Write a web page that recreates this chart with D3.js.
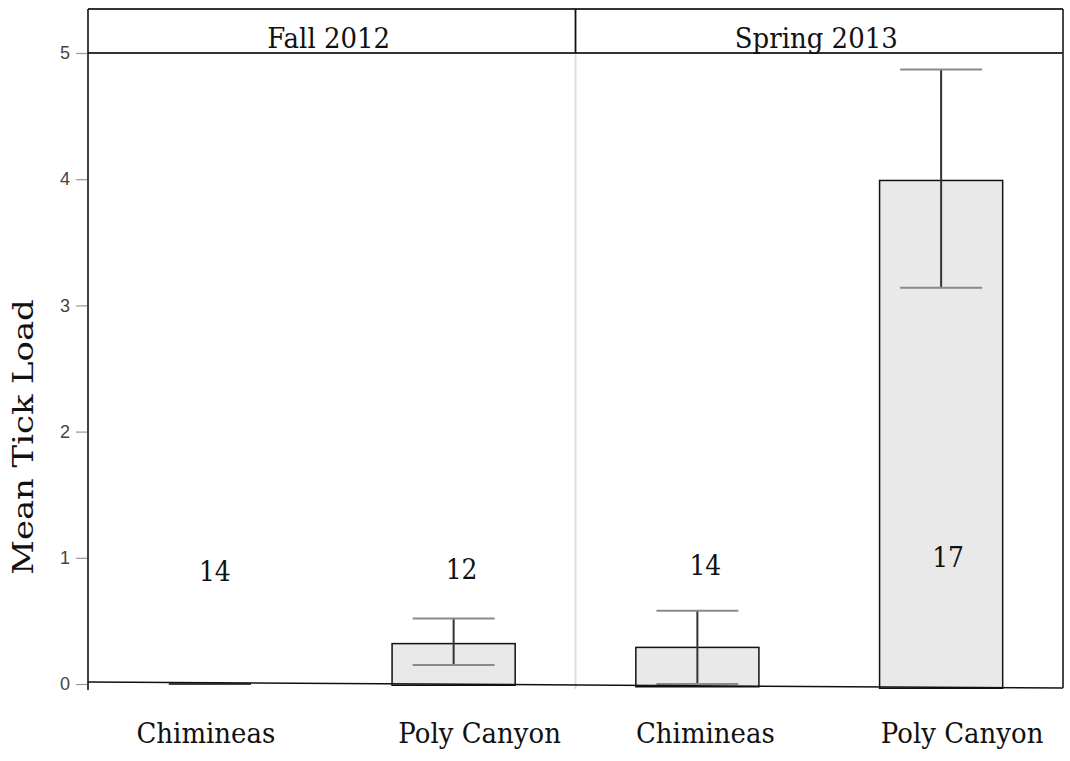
<!DOCTYPE html>
<html><head><meta charset="utf-8">
<script src="https://cdn.jsdelivr.net/npm/d3@7"></script>
<style>body{margin:0;background:#fff}</style>
</head><body><svg id="chart" width="1070" height="761"></svg>
<script>
// Mean tick load per site and season, with error bars and sample sizes
const seasons = ["Fall 2012", "Spring 2013"];
const sites = ["Chimineas", "Poly Canyon", "Chimineas", "Poly Canyon"];
const seasonIndex = [0, 0, 1, 1];
const meanLoad = [0, 0.32, 0.29, 3.99];
const errLow = [0, 0.15, 0, 3.14];
const errHigh = [0, 0.52, 0.58, 4.87];
const sampleSize = [14, 12, 14, 17];
const yTicks = [0, 1, 2, 3, 4, 5];

const svg = d3.select("#chart");
const plotLeft = 88, plotRight = 1063, frameTop = 9, stripBottom = 53;

const y = d3.scaleLinear().domain([0, 5]).range([684, 53]);
const x = d3.scaleBand().domain(d3.range(sites.length))
  .range([plotLeft, plotRight]).paddingInner(0.495).paddingOuter(0.2475);
// slightly tilted base line under the bars
const base = d3.scaleLinear().domain([plotLeft, plotRight]).range([y(0) - 2, y(0) + 4]);

const serif = "'DejaVu Serif', serif";
const panelW = (plotRight - plotLeft) / seasons.length;

// light divider between the two panels
svg.append("line")
  .attr("x1", plotLeft + panelW).attr("x2", plotLeft + panelW)
  .attr("y1", stripBottom).attr("y2", 689)
  .attr("stroke", "#dedede").attr("stroke-width", 2);

// bars
const cx = i => x(i) + x.bandwidth() / 2;
svg.append("g").selectAll("rect").data(meanLoad).join("rect")
  .attr("x", (d, i) => x(i))
  .attr("y", d => y(d))
  .attr("width", x.bandwidth())
  .attr("height", (d, i) => Math.max(0, base(cx(i)) + 1 - y(d)))
  .attr("fill", "#e9e9e9")
  .attr("stroke", (d) => d === 0 ? "#bbb" : "#111")
  .attr("stroke-width", 1.5);

// error bars
const capHalf = 41;
const eb = svg.append("g");
meanLoad.forEach((m, i) => {
  const c = cx(i);
  eb.append("line").attr("x1", c).attr("x2", c)
    .attr("y1", y(errLow[i])).attr("y2", y(errHigh[i]))
    .attr("stroke", "#333").attr("stroke-width", 2);
  [errLow[i], errHigh[i]].forEach(v => {
    eb.append("line").attr("x1", c - capHalf).attr("x2", c + capHalf)
      .attr("y1", y(v)).attr("y2", y(v))
      .attr("stroke", m === 0 ? "#444" : "#8a8a8a").attr("stroke-width", 2);
  });
});

// base line
svg.append("line")
  .attr("x1", plotLeft).attr("x2", plotRight)
  .attr("y1", base(plotLeft)).attr("y2", base(plotRight))
  .attr("stroke", "#111").attr("stroke-width", 1.5);

// frame: strip, divider, right border, left axis
const frame = svg.append("g").attr("stroke", "#333").attr("stroke-width", 1.8).attr("fill", "none");
frame.append("line").attr("x1", plotLeft).attr("x2", plotRight).attr("y1", frameTop).attr("y2", frameTop);
frame.append("line").attr("x1", plotLeft).attr("x2", plotRight).attr("y1", stripBottom).attr("y2", stripBottom);
frame.append("line").attr("x1", plotLeft + panelW).attr("x2", plotLeft + panelW).attr("y1", frameTop).attr("y2", stripBottom).attr("stroke", "#111");
frame.append("line").attr("x1", plotRight).attr("x2", plotRight).attr("y1", frameTop).attr("y2", base(plotRight));
svg.append("line").attr("x1", plotLeft).attr("x2", plotLeft).attr("y1", frameTop).attr("y2", 690)
  .attr("stroke", "#111").attr("stroke-width", 1.6);

// strip labels
svg.append("g").selectAll("text").data(seasons).join("text")
  .attr("transform", (d, i) => `translate(${plotLeft + panelW * (i + 0.5) - 3},48) scale(1,1.1)`)
  .attr("text-anchor", "middle")
  .style("font-family", serif).style("font-size", "26px").attr("fill", "#111")
  .text(d => d);

// y axis
const yAxis = d3.axisLeft(y).tickValues(yTicks).tickSize(11).tickPadding(6).tickFormat(d3.format("d"));
const ya = svg.append("g").attr("transform", `translate(${plotLeft - 1},0)`).call(yAxis)
  .attr("font-size", 18).attr("font-family", "'Liberation Sans', Arial, sans-serif");
ya.select(".domain").remove();
ya.selectAll(".tick line").attr("stroke", "#999").attr("stroke-width", 1.2);
ya.selectAll(".tick text").attr("fill", "#444");

svg.append("text")
  .attr("transform", "translate(33,437) rotate(-90) scale(1.3,1.05)")
  .attr("text-anchor", "middle")
  .style("font-family", serif).style("font-size", "26px").attr("fill", "#111")
  .text("Mean Tick Load");

// sample sizes
const countAt = [0.816, 0.832, 0.864, 0.927];
const countShift = [5, 8, 8, 7];
svg.append("g").selectAll("text").data(sampleSize).join("text")
  .attr("transform", (d, i) => `translate(${cx(i) + countShift[i]},${y(countAt[i])}) scale(1,1.1)`)
  .attr("text-anchor", "middle")
  .style("font-family", serif).style("font-size", "25px").attr("fill", "#111")
  .text(d => d);

// category labels
const labelShift = [-4, 26, 8, 21];
svg.append("g").selectAll("text").data(sites).join("text")
  .attr("transform", (d, i) => `translate(${cx(i) + labelShift[i]},743) scale(1,1.1)`)
  .attr("text-anchor", "middle")
  .style("font-family", serif).style("font-size", "26px").attr("fill", "#111")
  .text(d => d);
</script>
</body></html>
